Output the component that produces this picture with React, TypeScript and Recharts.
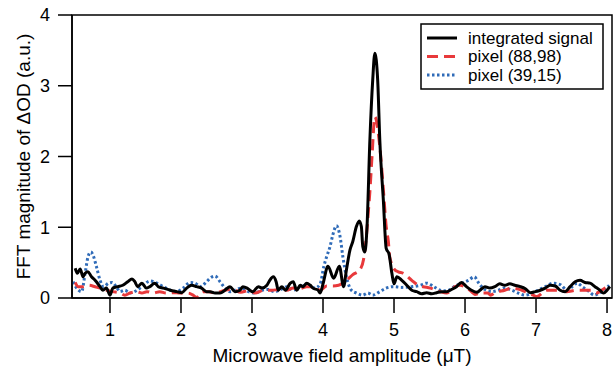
import React from 'react';
import { LineChart, Line, XAxis, YAxis, ReferenceArea, Legend, Label } from 'recharts';

const xTicks = [1, 2, 3, 4, 5, 6, 7, 8];
const yTicks = [0, 1, 2, 3, 4];

const integratedSignal: number[][] = [
  [0.51,0.42],[0.54,0.35],[0.58,0.41],[0.62,0.30],[0.65,0.35],[0.69,0.37],[0.74,0.30],[0.79,0.25],[0.86,0.16],[0.90,0.11],
  [0.95,0.14],[1.00,0.04],[1.04,0.14],[1.11,0.16],[1.18,0.18],[1.25,0.23],[1.31,0.27],[1.35,0.23],[1.39,0.16],[1.45,0.21],
  [1.51,0.14],[1.56,0.16],[1.63,0.21],[1.68,0.16],[1.75,0.14],[1.85,0.11],[1.94,0.09],[2.01,0.075],[2.08,0.14],[2.15,0.18],
  [2.22,0.16],[2.29,0.14],[2.36,0.09],[2.41,0.09],[2.48,0.07],[2.55,0.07],[2.62,0.11],[2.69,0.16],[2.76,0.09],[2.83,0.11],
  [2.87,0.16],[2.93,0.14],[2.97,0.11],[3.01,0.09],[3.09,0.16],[3.14,0.14],[3.21,0.18],[3.25,0.25],[3.30,0.30],[3.34,0.23],
  [3.37,0.11],[3.42,0.16],[3.47,0.11],[3.54,0.21],[3.58,0.23],[3.63,0.11],[3.68,0.18],[3.72,0.16],[3.77,0.21],[3.82,0.18],
  [3.86,0.14],[3.93,0.11],[3.96,0.07],[4.00,0.20],[4.07,0.45],[4.15,0.28],[4.23,0.45],[4.29,0.16],[4.33,0.40],[4.38,0.68],
  [4.42,0.80],[4.47,1.01],[4.51,1.09],[4.54,1.01],[4.56,0.73],[4.59,0.65],[4.62,1.01],[4.66,2.23],[4.70,3.08],[4.73,3.46],
  [4.77,3.08],[4.80,2.23],[4.85,1.38],[4.89,0.70],[4.93,0.62],[4.97,0.35],[5.00,0.20],[5.04,0.30],[5.11,0.25],[5.18,0.18],
  [5.25,0.11],[5.32,0.09],[5.39,0.06],[5.46,0.075],[5.53,0.06],[5.60,0.075],[5.67,0.09],[5.74,0.09],[5.81,0.12],[5.88,0.16],
  [5.95,0.22],[6.02,0.16],[6.09,0.11],[6.17,0.08],[6.21,0.11],[6.28,0.16],[6.35,0.14],[6.42,0.16],[6.49,0.20],[6.56,0.18],
  [6.63,0.20],[6.70,0.18],[6.78,0.16],[6.85,0.13],[6.92,0.075],[6.99,0.09],[7.06,0.11],[7.13,0.14],[7.20,0.18],[7.27,0.17],
  [7.34,0.11],[7.41,0.09],[7.48,0.16],[7.55,0.23],[7.62,0.25],[7.69,0.22],[7.76,0.21],[7.83,0.16],[7.90,0.11],[7.95,0.07],
  [8.00,0.11],[8.04,0.16],
];

const pixel8898: number[][] = [
  [0.51,0.22],[0.55,0.16],[0.62,0.16],[0.70,0.18],[0.79,0.16],[0.86,0.14],[0.95,0.11],[1.04,0.09],[1.14,0.07],[1.21,0.04],
  [1.28,0.07],[1.38,0.09],[1.45,0.07],[1.52,0.09],[1.61,0.07],[1.70,0.09],[1.79,0.07],[1.89,0.075],[1.99,0.07],[2.10,0.07],
  [2.17,0.04],[2.22,0.01],[2.31,0.09],[2.39,0.09],[2.48,0.07],[2.62,0.11],[2.73,0.12],[2.84,0.08],[2.96,0.11],[3.04,0.07],
  [3.17,0.11],[3.28,0.11],[3.39,0.12],[3.49,0.11],[3.58,0.14],[3.67,0.13],[3.77,0.16],[3.86,0.16],[3.96,0.11],[4.05,0.17],
  [4.14,0.17],[4.22,0.18],[4.33,0.25],[4.42,0.33],[4.52,0.40],[4.57,0.54],[4.615,0.92],[4.64,1.24],[4.66,1.50],[4.69,2.0],
  [4.73,2.56],[4.80,2.14],[4.85,1.53],[4.89,1.01],[4.92,0.80],[4.94,0.58],[5.01,0.40],[5.06,0.37],[5.13,0.35],[5.25,0.25],
  [5.34,0.18],[5.41,0.16],[5.51,0.14],[5.65,0.09],[5.74,0.07],[5.86,0.16],[5.93,0.18],[6.00,0.16],[6.09,0.09],[6.14,0.05],
  [6.21,0.07],[6.32,0.07],[6.36,0.04],[6.42,0.075],[6.56,0.11],[6.66,0.14],[6.80,0.11],[6.96,0.04],[7.01,0.02],[7.15,0.11],
  [7.31,0.11],[7.43,0.09],[7.57,0.11],[7.78,0.11],[7.85,0.07],[7.97,0.14],[8.01,0.16],
];

const pixel3915: number[][] = [
  [0.48,0.23],[0.53,0.14],[0.60,0.09],[0.65,0.35],[0.69,0.58],[0.73,0.65],[0.76,0.61],[0.81,0.44],[0.86,0.25],[0.91,0.16],
  [0.98,0.21],[1.03,0.22],[1.10,0.14],[1.14,0.09],[1.21,0.11],[1.28,0.07],[1.38,0.11],[1.47,0.18],[1.56,0.24],[1.66,0.21],
  [1.75,0.16],[1.85,0.11],[1.94,0.09],[2.03,0.14],[2.13,0.22],[2.20,0.21],[2.27,0.16],[2.36,0.23],[2.41,0.28],[2.48,0.31],
  [2.55,0.23],[2.62,0.14],[2.69,0.09],[2.76,0.11],[2.85,0.14],[2.95,0.09],[3.04,0.07],[3.14,0.11],[3.23,0.12],[3.32,0.09],
  [3.39,0.11],[3.49,0.16],[3.58,0.11],[3.68,0.16],[3.75,0.18],[3.82,0.16],[3.89,0.14],[3.96,0.20],[4.01,0.44],[4.05,0.58],
  [4.10,0.73],[4.14,0.90],[4.19,1.02],[4.24,0.87],[4.28,0.58],[4.33,0.30],[4.40,0.11],[4.47,0.07],[4.56,0.04],[4.63,0.07],
  [4.70,0.04],[4.80,0.09],[4.89,0.14],[4.99,0.16],[5.11,0.15],[5.25,0.16],[5.37,0.18],[5.46,0.21],[5.56,0.16],[5.65,0.11],
  [5.74,0.10],[5.86,0.17],[5.96,0.21],[6.05,0.25],[6.13,0.30],[6.20,0.20],[6.28,0.12],[6.38,0.09],[6.47,0.11],[6.56,0.14],
  [6.66,0.11],[6.75,0.07],[6.85,0.04],[6.94,0.07],[7.03,0.11],[7.13,0.16],[7.24,0.21],[7.34,0.19],[7.44,0.11],[7.51,0.16],
  [7.58,0.21],[7.65,0.16],[7.75,0.09],[7.82,0.04],[7.89,0.07],[7.96,0.11],[8.03,0.18],
];

const seriesNames = ['integrated signal', 'pixel (88,98)', 'pixel (39,15)'];
const xTitle = 'Microwave field amplitude (μT)';
const yTitle = 'FFT magnitude of ΔOD (a.u.)';

const toData = (pairs: number[][]) => pairs.map(([x, y]) => ({ x, y }));

const FONT = '"Liberation Sans", Arial, Helvetica, sans-serif';
const BLACK = '#000000';
const RED = '#e8393b';
const BLUE = '#2f6bb8';

const legendStyles = [
  { stroke: BLACK, dash: undefined as string | undefined },
  { stroke: RED, dash: '11 6' },
  { stroke: BLUE, dash: '2.5 2.5' },
];

const LegendBox = () => (
  <svg width={184} height={68} style={{ display: 'block' }}>
    <rect x={1} y={1} width={182} height={65} fill="#fff" stroke="#000" strokeWidth={1.5} />
    {seriesNames.map((name, i) => {
      const cy = 15 + i * 18.5;
      return (
        <g key={name}>
          <line x1={7} x2={37} y1={cy} y2={cy} stroke={legendStyles[i].stroke} strokeWidth={3}
            strokeDasharray={legendStyles[i].dash} />
          <text x={48} y={cy} dominantBaseline="central" fontSize={17} fontFamily={FONT} fill="#000">{name}</text>
        </g>
      );
    })}
  </svg>
);

const XTitle = (props: any) => {
  const vb = props.viewBox || { x: 72, y: 298, width: 540, height: 50 };
  return (
    <text x={vb.x + vb.width / 2} y={vb.y + 57} textAnchor="middle" dominantBaseline="central"
      fontSize={19} fontFamily={FONT} fill="#000">{xTitle}</text>
  );
};

const YTitle = (props: any) => {
  const vb = props.viewBox || { x: 22, y: 15, width: 50, height: 283 };
  const cx = vb.x + 1;
  const cy = vb.y + vb.height / 2;
  return (
    <text x={cx} y={cy} transform={`rotate(-90, ${cx}, ${cy})`} textAnchor="middle" dominantBaseline="central"
      fontSize={19} fontFamily={FONT} fill="#000">{yTitle}</text>
  );
};

export default function App() {
  return (
    <div style={{ position: 'absolute', left: 0, top: 0, width: 615, height: 369, background: '#fff' }}>
      <LineChart width={615} height={369} margin={{ top: 15, right: 3, left: 22, bottom: 21 }}>
        <XAxis
          dataKey="x"
          type="number"
          domain={[0.465, 8.07]}
          ticks={xTicks}
          allowDataOverflow
          height={50}
          tickSize={15}
          tickMargin={10}
          axisLine={{ stroke: '#000', strokeWidth: 1.5 }}
          tickLine={{ stroke: '#000', strokeWidth: 1.5 }}
          tick={{ fill: '#000', fontSize: 18, fontFamily: FONT }}
        >
          <Label content={XTitle} />
        </XAxis>
        <YAxis
          type="number"
          domain={[0, 4]}
          ticks={yTicks}
          width={50}
          tickSize={14}
          tickMargin={8}
          axisLine={{ stroke: '#000', strokeWidth: 1.5 }}
          tickLine={{ stroke: '#000', strokeWidth: 1.5 }}
          tick={{ fill: '#000', fontSize: 18, fontFamily: FONT }}
        >
          <Label content={YTitle} />
        </YAxis>
        <ReferenceArea x1={0.465} x2={8.07} y1={0} y2={4} fill="none" fillOpacity={0} stroke="#000" strokeWidth={1.5} />
        <Line data={toData(pixel3915)} dataKey="y" type="monotone" stroke={BLUE} strokeWidth={3}
          strokeDasharray="2.5 2.5" dot={false} isAnimationActive={false} name={seriesNames[2]} />
        <Line data={toData(pixel8898)} dataKey="y" type="monotone" stroke={RED} strokeWidth={3}
          strokeDasharray="11 6" dot={false} isAnimationActive={false} name={seriesNames[1]} />
        <Line data={toData(integratedSignal)} dataKey="y" type="monotone" stroke={BLACK} strokeWidth={3}
          dot={false} isAnimationActive={false} name={seriesNames[0]} />
        <Legend
          layout="horizontal"
          verticalAlign="middle"
          align="center"
          content={() => <LegendBox />}
          wrapperStyle={{ position: 'absolute', left: 420, top: 23, width: 184, height: 68 }}
        />
      </LineChart>
    </div>
  );
}
